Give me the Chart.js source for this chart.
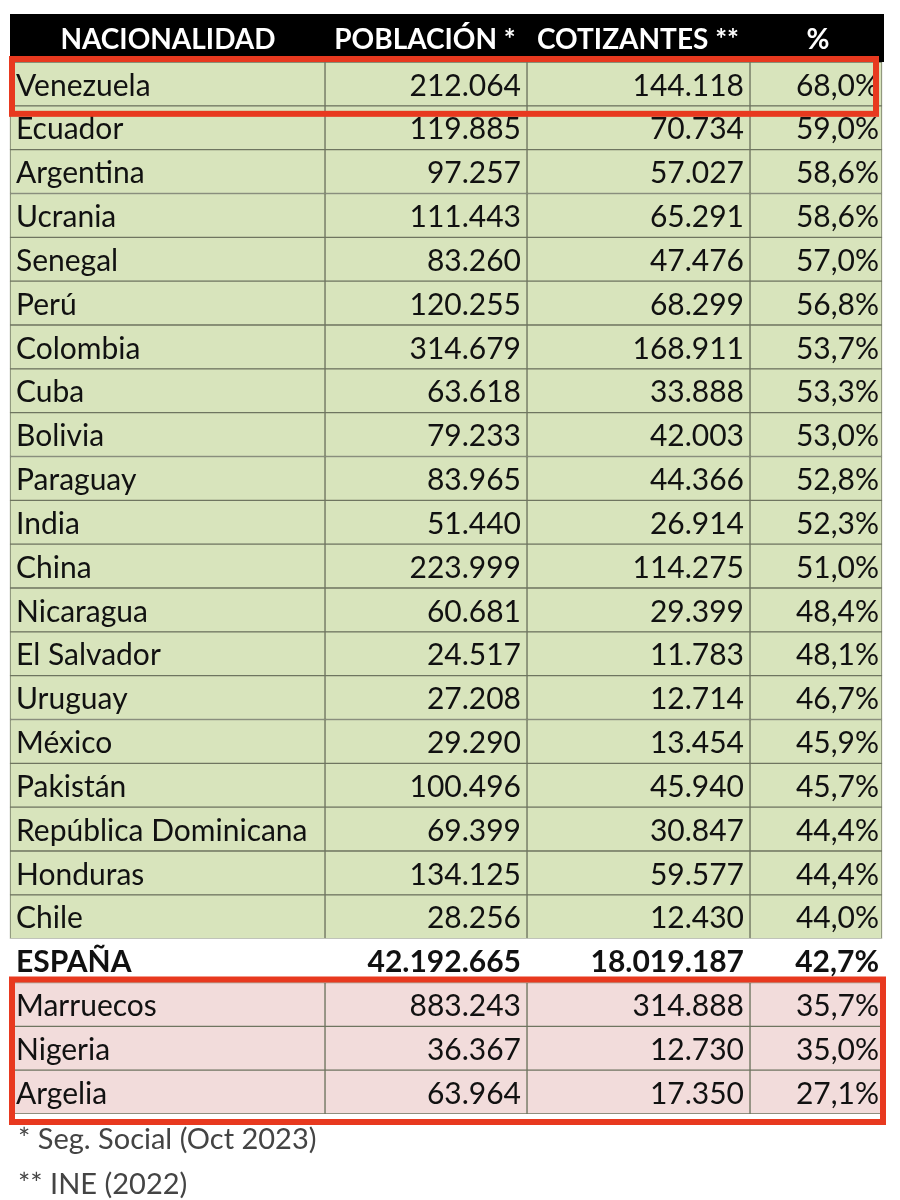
<!DOCTYPE html>
<html>
<head>
<meta charset="utf-8">
<script src="https://cdn.jsdelivr.net/npm/chart.js@4.4.0/dist/chart.umd.min.js"></script>
<style>
  body { margin: 0; background: #fff; }
  canvas { display: block; }
</style>
</head>
<body>
<canvas id="tabla" width="900" height="1200"></canvas>
<script>
// Table data
const countries = ['Venezuela', 'Ecuador', 'Argentina', 'Ucrania', 'Senegal', 'Perú', 'Colombia', 'Cuba',
  'Bolivia', 'Paraguay', 'India', 'China', 'Nicaragua', 'El Salvador', 'Uruguay', 'México', 'Pakistán',
  'República Dominicana', 'Honduras', 'Chile', 'ESPAÑA', 'Marruecos', 'Nigeria', 'Argelia'];
const poblacion = [212064, 119885, 97257, 111443, 83260, 120255, 314679, 63618, 79233, 83965, 51440, 223999,
  60681, 24517, 27208, 29290, 100496, 69399, 134125, 28256, 42192665, 883243, 36367, 63964];
const cotizantes = [144118, 70734, 57027, 65291, 47476, 68299, 168911, 33888, 42003, 44366, 26914, 114275,
  29399, 11783, 12714, 13454, 45940, 30847, 59577, 12430, 18019187, 314888, 12730, 17350];
const porcentaje = [68.0, 59.0, 58.6, 58.6, 57.0, 56.8, 53.7, 53.3, 53.0, 52.8, 52.3, 51.0, 48.4, 48.1,
  46.7, 45.9, 45.7, 44.4, 44.4, 44.0, 42.7, 35.7, 35.0, 27.1];
const headers = ['NACIONALIDAD', 'POBLACIÓN *', 'COTIZANTES **', '%'];
const footnotes = ['* Seg. Social (Oct 2023)', '** INE (2022)'];

// Column edges in the x scale
const colEdges = [10, 325, 527, 750, 882];
const FONT = 'Lato, "Open Sans", sans-serif';

const fmt = n => String(n).replace(/\B(?=(\d{3})+(?!\d))/g, '.');
const fmtPct = p => p.toFixed(1).replace('.', ',') + '%';

function rowColor(i) {
  if (countries[i] === 'ESPAÑA') return '#ffffff';
  return i > countries.indexOf('ESPAÑA') ? '#f2dcdb' : '#d8e4bc';
}

const datasets = colEdges.slice(0, -1).map((x0, c) => ({
  data: countries.map(() => [x0, colEdges[c + 1]]),
  backgroundColor: countries.map((_, i) => rowColor(i)),
  borderColor: countries.map((_, i) => countries[i] === 'ESPAÑA' ? '#ffffff' : '#6f7560'),
  borderWidth: 1,
  borderSkipped: false,
  grouped: false,
  categoryPercentage: 1,
  barPercentage: 1
}));

const tablePlugin = {
  id: 'tableText',
  afterDatasetsDraw(chart) {
    const ctx = chart.ctx;
    const x = chart.scales.x, y = chart.scales.y;
    const half = (y.getPixelForValue(1) - y.getPixelForValue(0)) / 2;
    ctx.save();
    // header
    const top = y.getPixelForValue(0) - half;
    ctx.fillStyle = '#000';
    ctx.fillRect(x.getPixelForValue(colEdges[0]), 14, x.getPixelForValue(884) - x.getPixelForValue(colEdges[0]), top - 14);
    ctx.fillStyle = '#fff';
    ctx.font = 'bold 28px ' + FONT;
    ctx.textBaseline = 'middle';
    ctx.textAlign = 'center';
    const hx = [168, 425, 638, 818];
    headers.forEach((h, c) => ctx.fillText(h, x.getPixelForValue(hx[c]), (top + 14) / 2 + 2));
    // rows
    countries.forEach((name, i) => {
      const cy = y.getPixelForValue(i) + 2;
      const bold = name === 'ESPAÑA';
      ctx.fillStyle = '#111';
      ctx.font = (bold ? 'bold ' : '') + '30px ' + FONT;
      ctx.textAlign = 'left';
      ctx.fillText(name, x.getPixelForValue(colEdges[0] + 6), cy);
      ctx.textAlign = 'right';
      ctx.fillText(fmt(poblacion[i]), x.getPixelForValue(colEdges[2] - 6), cy);
      ctx.fillText(fmt(cotizantes[i]), x.getPixelForValue(colEdges[3] - 6), cy);
      ctx.fillText(fmtPct(porcentaje[i]), x.getPixelForValue(colEdges[4] - 3), cy);
    });
    // red highlight boxes
    ctx.strokeStyle = '#e8391f';
    ctx.lineWidth = 6;
    const box = (r0, r1, x1) => {
      const y0 = y.getPixelForValue(r0) - half - 3, y1 = y.getPixelForValue(r1) + half + 8;
      ctx.strokeRect(x.getPixelForValue(colEdges[0]) + 2, y0, x.getPixelForValue(x1) - x.getPixelForValue(colEdges[0]) - 2, y1 - y0);
    };
    box(0, 0, 876);
    box(countries.indexOf('ESPAÑA') + 1, countries.length - 1, 883);
    // footnotes
    ctx.fillStyle = '#444';
    ctx.font = '29px ' + FONT;
    ctx.textAlign = 'left';
    ctx.fillText(footnotes[0], x.getPixelForValue(18), 1140);
    ctx.fillText(footnotes[1], x.getPixelForValue(18), 1185);
    ctx.restore();
  }
};

new Chart(document.getElementById('tabla'), {
  type: 'bar',
  data: { labels: countries, datasets },
  options: {
    indexAxis: 'y',
    responsive: false,
    animation: false,
    layout: { padding: { top: 62, bottom: 86, left: 0, right: 0 } },
    plugins: { legend: { display: false }, tooltip: { enabled: false } },
    scales: {
      x: { type: 'linear', min: 0, max: 900, display: false },
      y: { type: 'category', display: false }
    }
  },
  plugins: [tablePlugin]
});
</script>
</body>
</html>
